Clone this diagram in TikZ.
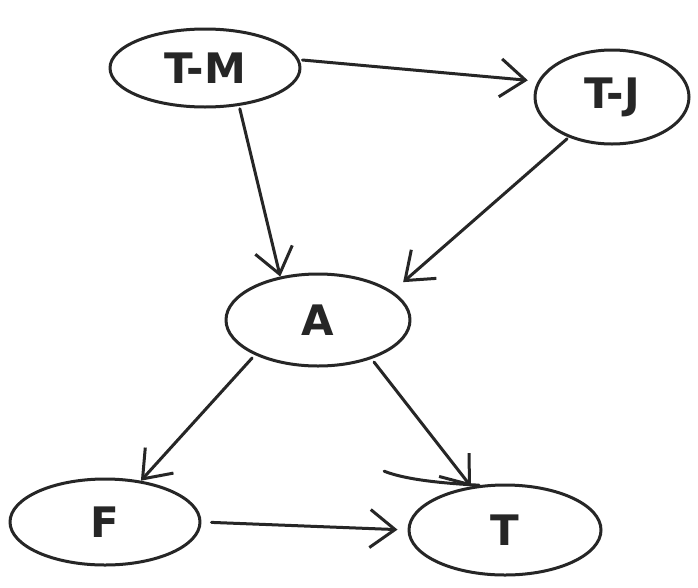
\documentclass[tikz,border=0pt]{standalone}
\usepackage{fontspec}
\setmainfont{DejaVu Sans}
\usetikzlibrary{shapes.geometric,arrows.meta}
\begin{document}
\begin{tikzpicture}[x=1pt,y=-1pt,
  pen/.style={line width=3pt,line cap=round,line join=round,black!85},
  var/.style={pen,draw,ellipse,inner sep=0pt,text=black!85,
    font=\fontsize{42}{48}\selectfont\bfseries},
  link/.style={pen,-{Straight Barb[length=25pt,width=38pt,line width=3pt]}}]
  \useasboundingbox (0,0) rectangle (698,587);
  \fill[white] (0,0) rectangle (698,587);
  % the five variables
  \node[var,minimum width=190pt,minimum height=78pt] (tm) at (205,68) {T-M};
  \node[var,minimum width=154pt,minimum height=94pt] (tj) at (612,97) {T-J};
  \node[var,minimum width=184pt,minimum height=92pt] (a)  at (318,320) {A};
  \node[var,minimum width=190pt,minimum height=86pt] (f)  at (105,522) {F};
  \node[var,minimum width=192pt,minimum height=90pt] (t)  at (505,530) {T};
  % pen overshoot where the outline of T was closed
  \draw[pen] (t.120) .. controls +(-40pt,2pt) and +(20pt,-8pt) .. ++(-95pt,14pt);
  % dependencies
  \draw[link,shorten <=3pt,shorten >=10pt] (tm.5) -- (tj.168);
  \draw[link,shorten <=3pt] (tm.-48) -- (a.131);
  \draw[link,shorten <=2pt,shorten >=14pt] (tj.223) -- (a.21);
  \draw[link,shorten <=4pt] (a.209) -- (f.49);
  \draw[link,shorten <=4pt] (a.-36) -- (t.128);
  \draw[link,shorten <=10pt,shorten >=10pt] (f.east) -- (t.west);
\end{tikzpicture}
\end{document}
